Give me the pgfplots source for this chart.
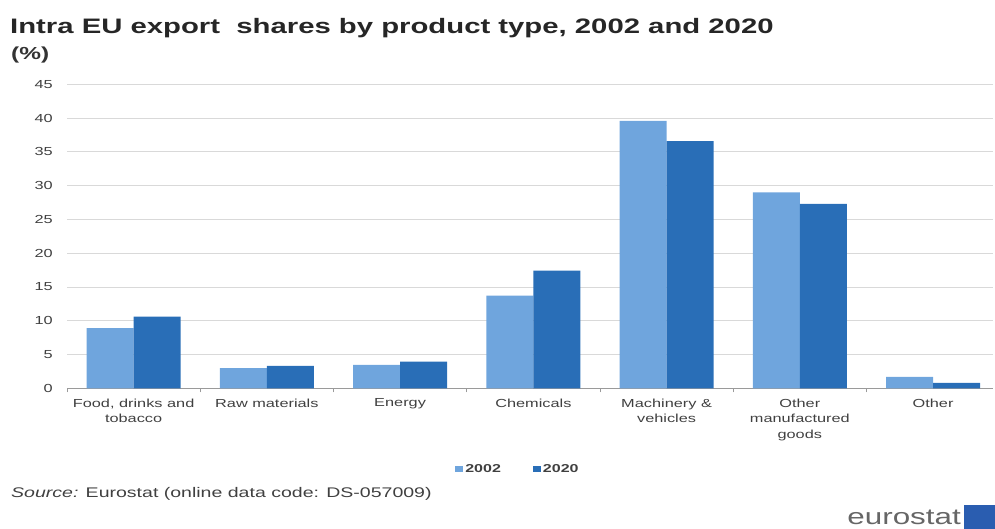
\documentclass[border=0pt]{standalone}
\usepackage{fontspec}
\setmainfont{Liberation Sans}[FakeStretch=1.4]
\usepackage{pgfplots}
\pgfplotsset{compat=1.18}
\definecolor{cA}{HTML}{6FA5DD}
\definecolor{cB}{HTML}{296EB7}
\definecolor{txt}{HTML}{404040}
\definecolor{gridc}{HTML}{D9D9D9}
\definecolor{axc}{HTML}{9A9A9A}
\definecolor{logoblue}{HTML}{2A5DB0}
\begin{document}
\begin{tikzpicture}[x=1bp,y=1bp]
\useasboundingbox (0,0) rectangle (995,529);
\begin{axis}[
  at={(67bp,140.7bp)}, anchor=south west, scale only axis,
  width=926bp, height=304bp,
  ymin=0, ymax=45, xmin=-0.5, xmax=6.45,
  ybar=0pt, bar width=47bp,
  ytick={0,5,...,45},
  xtick={0,...,6},
  xticklabels={{Food, drinks and\\tobacco},{Raw materials},{Energy},{Chemicals},{Machinery \&\\vehicles},{Other\\manufactured\\goods},{Other}},
  /pgf/number format/assume math mode=true,
  major tick length=0pt,
  tick align=outside,
  extra x ticks={-0.5,0.5,1.5,2.5,3.5,4.5,5.5},
  extra x tick labels={},
  extra x tick style={major tick length=4bp, tick style={draw=axc, line width=0.8bp}, grid=none},
  axis x line*=bottom, axis y line*=left,
  x axis line style={draw=axc, line width=1bp, -},
  y axis line style={draw=none},
  ytick style={draw=none},
  ymajorgrids, grid style={draw=gridc, line width=0.9bp},
  xticklabel style={align=center, font=\fontsize{11.7}{15.5}\selectfont, text=txt, yshift=-7bp},
  yticklabel style={font=\fontsize{11.7}{14}\selectfont, text=txt, anchor=east, xshift=-14bp, inner sep=0pt},
  legend style={at={(0.487,-0.265)}, anchor=center, draw=none, fill=none, legend columns=2,
    font=\bfseries\fontsize{11.5}{13}\selectfont, text=txt,
    /tikz/every even column/.append style={column sep=30bp}},
  legend image code/.code={\fill[#1] (0bp,-3bp) rectangle (8bp,3bp);},
]
\addplot[fill=cA, draw=none] coordinates {(0,8.9) (1,3.0) (2,3.45) (3,13.7) (4,39.6) (5,29.0) (6,1.7)};
\addplot[fill=cB, draw=none] coordinates {(0,10.6) (1,3.3) (2,3.95) (3,17.4) (4,36.6) (5,27.3) (6,0.8)};
\legend{2002,2020}
\end{axis}
\node[anchor=west, inner sep=0pt, font=\bfseries\fontsize{21}{24}\selectfont, text=black!85] at (10,501) {Intra EU export\ \ shares by product type, 2002 and 2020};
\node[anchor=west, inner sep=0pt, font=\bfseries\fontsize{17.5}{20}\selectfont, text=black!80] at (11,474) {(\%)};
\node[anchor=west, inner sep=0pt, font=\fontsize{14}{16}\selectfont, text=txt] at (11,35) {\textit{Source:} Eurostat (online data code: DS-057009)};
\node[anchor=east, inner sep=0pt, font=\fontsize{22.5}{24}\selectfont, text=black!60] at (961,12) {eurostat};
\fill[logoblue] (964,0) rectangle (995,24);
\end{tikzpicture}
\end{document}
